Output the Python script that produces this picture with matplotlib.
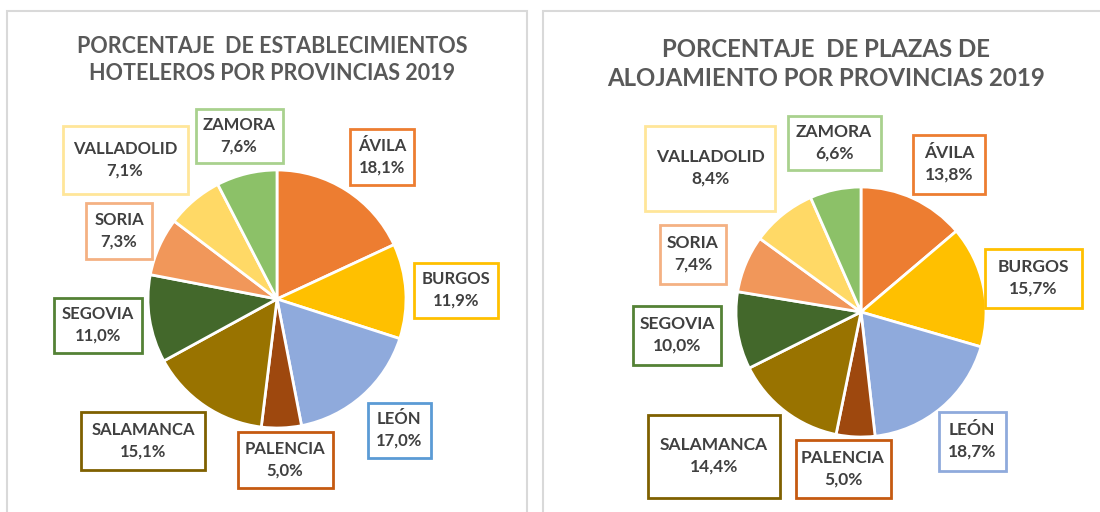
import matplotlib.pyplot as plt
from matplotlib.patches import Rectangle

plt.rcParams['font.family'] = ['Lato', 'DejaVu Sans']

provincias = ["ÁVILA", "BURGOS", "LEÓN", "PALENCIA", "SALAMANCA",
              "SEGOVIA", "SORIA", "VALLADOLID", "ZAMORA"]
establecimientos = [18.1, 11.9, 17.0, 5.0, 15.1, 11.0, 7.3, 7.1, 7.6]
plazas = [13.8, 15.7, 18.7, 5.0, 14.4, 10.0, 7.4, 8.4, 6.6]

colores = ['#ED7D31', '#FFC000', '#8FAADC', '#9E480E', '#997300',
           '#43682B', '#F1975A', '#FFD966', '#8CC168']
bordes_izq = ['#ED7D31', '#FFC000', '#5B9BD5', '#C55A11', '#7F6000',
              '#548235', '#F4B183', '#FFE699', '#A9D18E']
bordes_der = ['#ED7D31', '#FFC000', '#8FAADC', '#C55A11', '#7F6000',
              '#548235', '#F4B183', '#FFE699', '#A9D18E']

W, H = 1100, 512
fig = plt.figure(figsize=(W / 100, H / 100), dpi=100)
fig.patch.set_facecolor('white')

# panel frames
for x0, x1 in [(7, 527), (543, 1110)]:
    fig.add_artist(Rectangle((x0 / W, -0.05), (x1 - x0) / W, (H - 11) / H + 0.05,
                             transform=fig.transFigure, fill=False,
                             edgecolor='#D9D9D9', linewidth=1.5))


def pie_panel(cx, cy, r, valores, titulo, tx, ty, tsize, lsize, etiquetas, bordes):
    ax = fig.add_axes([(cx - r) / W, (H - cy - r) / H, 2 * r / W, 2 * r / H])
    ax.pie(valores, colors=colores, startangle=90, counterclock=False,
           wedgeprops=dict(edgecolor='white', linewidth=2))
    ax.set_xlim(-1, 1)
    ax.set_ylim(-1, 1)
    ax.set_aspect('auto')
    ax.axis('off')
    fig.text(tx / W, 1 - ty / H, titulo, ha='center', va='center',
             fontsize=tsize, fontweight='bold', color='#595959', linespacing=1.3)
    for nombre, v, (lx, ly, px, py), b in zip(provincias, valores, etiquetas, bordes):
        txt = nombre + "\n" + f"{v:.1f}".replace('.', ',') + "%"
        fig.text(lx / W, 1 - ly / H, txt, ha='center', va='center',
                 fontsize=lsize, fontweight='bold', color='#404040',
                 linespacing=1.4, multialignment='center')
        # box drawn as a rectangle around the label centre
        fig.add_artist(Rectangle(((lx - px / 2) / W, 1 - (ly + py / 2) / H),
                                 px / W, py / H, transform=fig.transFigure,
                                 fill=False, edgecolor=b, linewidth=2))


# label centres and box sizes (px)
etq_izq = [(382, 157, 64, 56), (456, 290, 84, 55), (399, 430, 63, 55),
           (285, 460, 95, 56), (143, 441, 124, 58), (98, 325, 88, 55),
           (119, 231, 66, 56), (125, 160, 125, 68), (239, 136, 87, 54)]
etq_der = [(949, 164, 72, 59), (1033, 278, 97, 59), (972, 441, 67, 59),
           (843, 469, 95, 58), (714, 456, 132, 83), (677, 335, 88, 59),
           (693, 254, 66, 59), (710, 168, 130, 85), (834, 143, 93, 54)]

pie_panel(277, 299, 129, establecimientos,
          "PORCENTAJE  DE ESTABLECIMIENTOS\nHOTELEROS POR PROVINCIAS 2019",
          272, 60, 15.5, 12, etq_izq, bordes_izq)
pie_panel(861, 312, 125, plazas,
          "PORCENTAJE  DE PLAZAS DE\nALOJAMIENTO POR PROVINCIAS 2019",
          826, 64, 17.3, 12.5, etq_der, bordes_der)

fig.savefig('out.png', dpi=100)
